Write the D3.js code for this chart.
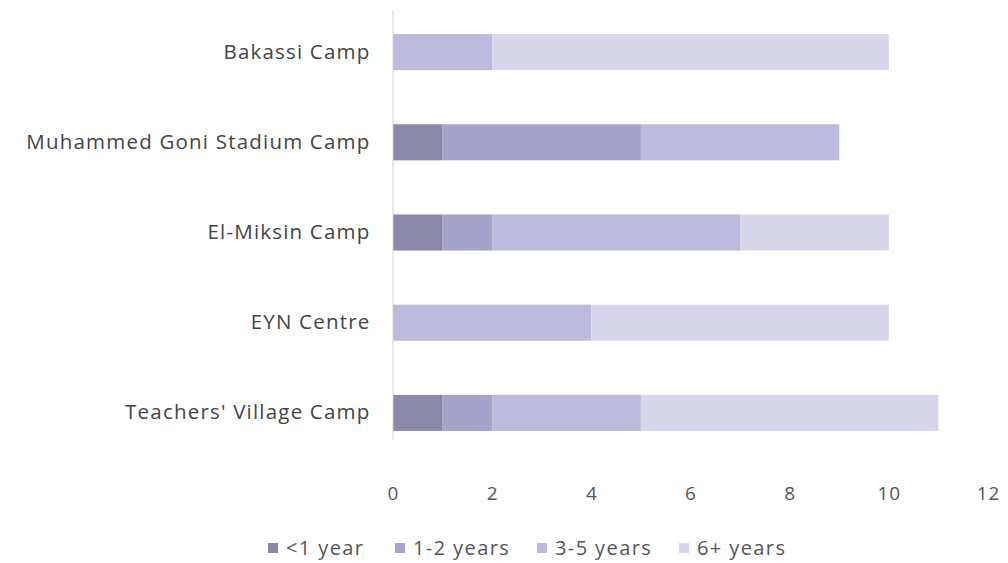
<!DOCTYPE html>
<html><head><meta charset="utf-8">
<script src="https://cdn.jsdelivr.net/npm/d3@7"></script>
<style>body{margin:0;background:#fff;}svg{display:block;}</style>
</head><body>
<script>
const categories = ["Bakassi Camp","Muhammed Goni Stadium Camp","El-Miksin Camp","EYN Centre","Teachers' Village Camp"];
const seriesNames = ["<1 year","1-2 years","3-5 years","6+ years"];
const lessThan1 = [0,1,1,0,1];
const oneToTwo = [0,4,1,0,1];
const threeToFive = [2,4,5,4,3];
const sixPlus = [8,0,3,6,6];
const xTicks = [0,2,4,6,8,10,12];
const colors = ["#8b88aa","#a5a3c9","#bdbbdd","#d8d6eb"];

const W=1008,H=563;
const svg=d3.select("body").append("svg").attr("width",W).attr("height",H);
const font="'Open Sans', sans-serif";

const x=d3.scaleLinear().domain([0,12]).range([393,988]);
const y=d3.scaleBand().domain(categories).range([7,458]).paddingInner(0.6).paddingOuter(0.3);

const rows=categories.map((c,i)=>({cat:c,"<1 year":lessThan1[i],"1-2 years":oneToTwo[i],"3-5 years":threeToFive[i],"6+ years":sixPlus[i]}));
const stack=d3.stack().keys(seriesNames)(rows);

svg.append("g").selectAll("g").data(stack).join("g")
  .attr("fill",(d,i)=>colors[i])
  .selectAll("rect").data(d=>d).join("rect")
  .attr("x",d=>x(d[0])).attr("width",d=>x(d[1])-x(d[0]))
  .attr("y",d=>y(d.data.cat)).attr("height",y.bandwidth());

// vertical axis line
svg.append("line").attr("x1",x(0)).attr("x2",x(0)).attr("y1",10).attr("y2",440)
  .attr("stroke","#d0d0d0").attr("stroke-width",1);

// category labels
const yAxis=d3.axisLeft(y).tickSize(0).tickPadding(22.5);
const ya=svg.append("g").attr("transform",`translate(${x(0)},0)`).call(yAxis);
ya.select(".domain").remove();
ya.selectAll("text").attr("font-family",font).attr("font-size",20.5)
  .attr("letter-spacing","1.2px").attr("fill","#444");

// x tick labels
const xAxis=d3.axisBottom(x).tickValues(xTicks).tickSize(0).tickPadding(0);
const xa=svg.append("g").attr("transform",`translate(0,486)`).call(xAxis);
xa.select(".domain").remove();
xa.selectAll("text").attr("font-family",font).attr("font-size",19)
  .attr("letter-spacing","1px").attr("fill","#555");

// legend
const legX=[268,395,537,679];
const lg=svg.append("g").selectAll("g").data(seriesNames).join("g")
  .attr("transform",(d,i)=>`translate(${legX[i]},548)`);
lg.append("rect").attr("x",0).attr("y",-5).attr("width",10).attr("height",10).attr("fill",(d,i)=>colors[i]);
lg.append("text").attr("x",18).attr("y",0).attr("dy","0.35em").text(d=>d)
  .attr("font-family",font).attr("font-size",20).attr("letter-spacing","1.4px").attr("fill","#555");
</script>
</body></html>
